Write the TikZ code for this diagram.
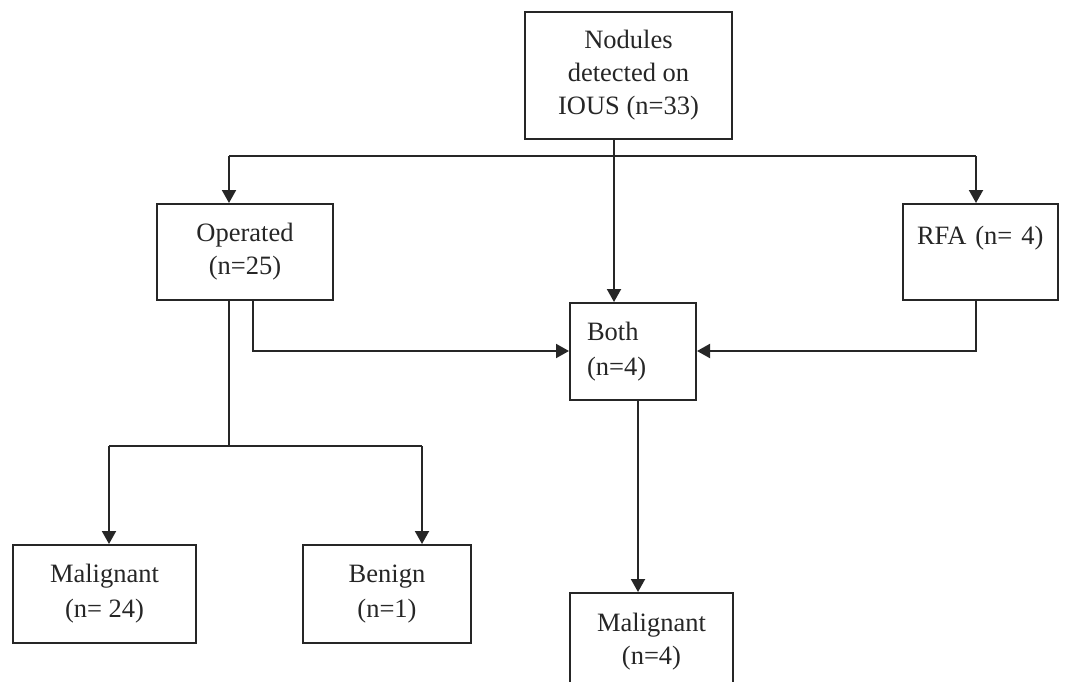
\documentclass[tikz,border=0pt]{standalone}
\usepackage{fontspec}
\setmainfont{Liberation Serif}
\usetikzlibrary{arrows.meta}
\begin{document}
\begin{tikzpicture}[x=1pt,y=-1pt,
  box/.style={draw=black!85, line width=2pt, inner sep=0pt, font=\fontsize{26.5}{33}\selectfont, text=black!85, align=center},
  conn/.style={draw=black!85, line width=2pt},
  arr/.style={conn, -{Triangle[length=13pt,width=14pt]}}]
\clip (0,0) rectangle (1065,682);
\fill[white] (0,0) rectangle (1065,682);
% boxes
\node[box, minimum width=207pt, minimum height=127pt] (top) at (628.5,75.5) {Nodules\\detected on\\IOUS (n=33)};
\node[box, minimum width=176pt, minimum height=96pt] (op) at (245,252) {Operated\\(n=25)};
\node[box, minimum width=155pt, minimum height=96pt, align=left, text width=127pt] (rfa) at (980.5,252) {RFA (n= 4)\\\mbox{}};
\node[box, minimum width=126pt, minimum height=97pt, align=left, text width=92pt] (both) at (633,351.5) {Both\\[2pt](n=4)};
\node[box, minimum width=183pt, minimum height=98pt] (mal1) at (104.5,594) {Malignant\\[2pt](n= 24)};
\node[box, minimum width=168pt, minimum height=98pt] (ben) at (387,594) {Benign\\[2pt](n=1)};
\node[box, minimum width=163pt, minimum height=97pt] (mal2) at (651.5,641.5) {Malignant\\(n=4)};
% junction coordinates
\coordinate (s1) at (614,156);
\coordinate (lft) at (229,156);
\coordinate (rgt) at (976,156);
\coordinate (o2) at (253,351);
\coordinate (r2) at (976,351);
\coordinate (o1) at (229,446);
\coordinate (m1) at (109,446);
\coordinate (b1) at (422,446);
\coordinate (b2) at (638,500);
% connectors
\draw[conn] (lft) -- (rgt);
\draw[conn] (s1 |- top.south) -- (s1);
\draw[arr] (s1) -- (s1 |- both.north);
\draw[arr] (lft) -- (lft |- op.north);
\draw[arr] (rgt) -- (rgt |- rfa.north);
\draw[arr] (o2 |- op.south) -- (o2) -- (both.west |- o2);
\draw[arr] (r2 |- rfa.south) -- (r2) -- (both.east |- r2);
\draw[conn] (o1 |- op.south) -- (o1);
\draw[conn] (m1) -- (b1);
\draw[arr] (m1) -- (m1 |- mal1.north);
\draw[arr] (b1) -- (b1 |- ben.north);
\draw[arr] (b2 |- both.south) -- (b2 |- mal2.north);
\end{tikzpicture}
\end{document}
